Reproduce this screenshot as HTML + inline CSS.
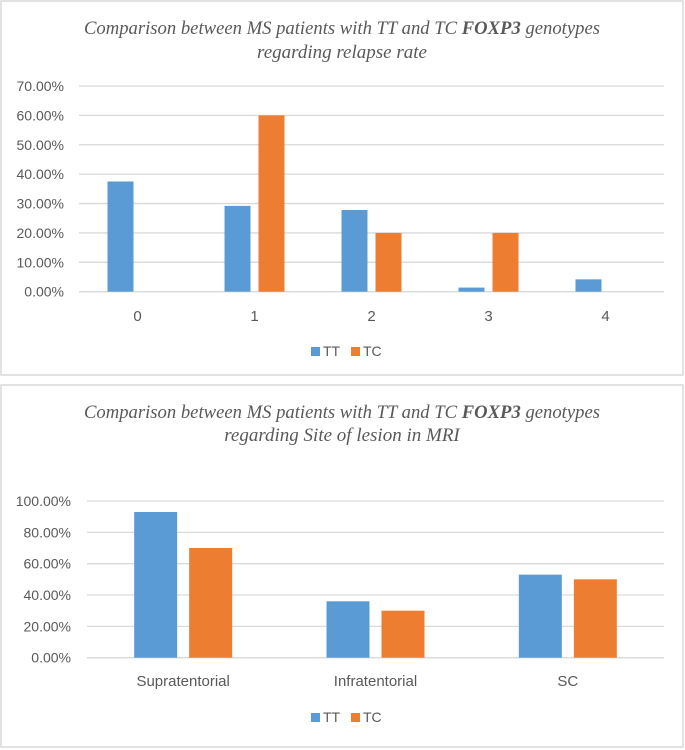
<!DOCTYPE html>
<html><head><meta charset="utf-8">
<style>
html,body{margin:0;padding:0;background:#fff;}
svg{display:block;}
text{font-family:"Liberation Sans",sans-serif;fill:#595959;}
.t{font-family:"Liberation Serif",serif;font-style:italic;fill:#595959;font-size:19px;}
</style></head>
<body>
<svg id="s" width="685" height="750" viewBox="0 0 685 750" xmlns="http://www.w3.org/2000/svg">
<rect x="1" y="1" width="682" height="374" fill="#fff" stroke="#d9d9d9" stroke-width="1.5"/>
<rect x="1" y="385" width="682" height="362" fill="#fff" stroke="#d9d9d9" stroke-width="1.5"/>
<text class="t" x="342" y="34" text-anchor="middle" textLength="516" lengthAdjust="spacingAndGlyphs">Comparison between MS patients with TT and TC <tspan font-weight="bold">FOXP3</tspan> genotypes</text>
<text class="t" x="342" y="58" text-anchor="middle">regarding relapse rate</text>
<text class="t" x="342" y="418" text-anchor="middle" textLength="516" lengthAdjust="spacingAndGlyphs">Comparison between MS patients with TT and TC <tspan font-weight="bold">FOXP3</tspan> genotypes</text>
<text class="t" x="342" y="441" text-anchor="middle">regarding Site of lesion in MRI</text>
<g id="c1"></g>
<g id="c2"></g>
</svg>
<script>
const cats1 = ["0","1","2","3","4"];
const tt1 = [37.5, 29.2, 27.8, 1.4, 4.2];
const tc1 = [0, 60, 20, 20, 0];
const ticks1 = [0,10,20,30,40,50,60,70];
const cats2 = ["Supratentorial","Infratentorial","SC"];
const tt2 = [93, 36, 53];
const tc2 = [70, 30, 50];
const ticks2 = [0,20,40,60,80,100];

const NS = "http://www.w3.org/2000/svg";
function mk(tag, attrs, parent, txt){
  const e = document.createElementNS(NS, tag);
  for (const k in attrs) e.setAttribute(k, attrs[k]);
  if (txt !== undefined) e.textContent = txt;
  parent.appendChild(e);
  return e;
}
function draw(g, cats, tt, tc, ticks, cfg, prefix){
  const y = v => cfg.y0 - (v - 0) / (cfg.max) * (cfg.y0 - cfg.y1);
  const bw = (cfg.x1 - cfg.x0) / cats.length;
  const x = i => cfg.x0 + bw * (i + 0.5);
  ticks.forEach(t => {
    const l = mk("line", {x1: cfg.x0, x2: cfg.x1, y1: y(t), y2: y(t), stroke: "#d9d9d9", "stroke-width": 1.3}, g);
    
    
    const tx = mk("text", {x: cfg.lx, y: y(t) + 5, "text-anchor": "end", "font-size": 14}, g, t.toFixed(2) + "%");
    
    
  });
  cats.forEach((c, i) => {
    const series = [[tt[i], "#5b9bd5", -cfg.off, "tt"], [tc[i], "#ed7d31", cfg.off, "tc"]];
    series.forEach(s => {
      if (s[0] <= 0) return;
      const r = mk("rect", {x: x(i) + s[2] - cfg.w / 2, y: y(s[0]), width: cfg.w, height: y(0) - y(s[0]), fill: s[1]}, g);
      
      
    });
    const tx = mk("text", {x: x(i), y: cfg.cy, "text-anchor": "middle", "font-size": 15}, g, c);
    
    
  });
  [["TT", "#5b9bd5", 311], ["TC", "#ed7d31", 351]].forEach(L => {
    const r = mk("rect", {x: L[2], y: cfg.ly - 7, width: 9, height: 9, fill: L[1]}, g);
    
    
    const tx = mk("text", {x: L[2] + 12, y: cfg.ly + 2, "font-size": 14}, g, L[0]);
    
    
  });
}
draw(document.getElementById("c1"), cats1, tt1, tc1, ticks1,
  {x0: 79, x1: 664, y0: 291.7, y1: 86, max: 70, lx: 64, w: 26, off: 17, cy: 321, ly: 354}, "chart1");
draw(document.getElementById("c2"), cats2, tt2, tc2, ticks2,
  {x0: 87, x1: 664, y0: 657.7, y1: 501, max: 100, lx: 71, w: 43, off: 27.5, cy: 686, ly: 720}, "chart2");
</script>
</body></html>
